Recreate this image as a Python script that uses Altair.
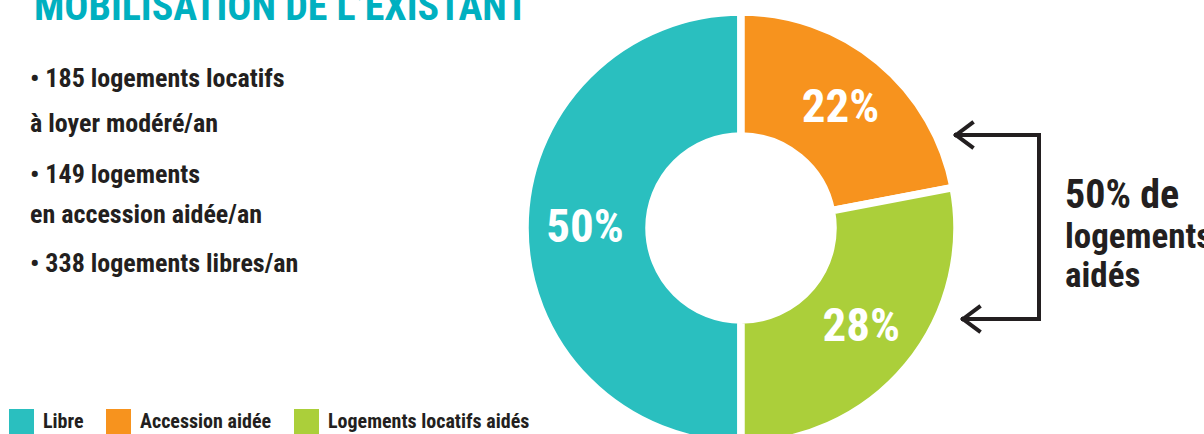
import altair as alt
import pandas as pd

# ---- data ----
categories = ["Libre", "Accession aidée", "Logements locatifs aidés"]
shares = [50, 22, 28]
slice_order = [3, 1, 2]
colors = ["#2ABFBF", "#F7931E", "#ABCF3A"]
pct_labels = [f"{v}%" for v in shares]

title_text = "MOBILISATION DE L’EXISTANT"
bullet_lines = [
    "• 185 logements locatifs",
    "à loyer modéré/an",
    "• 149 logements",
    "en accession aidée/an",
    "• 338 logements libres/an",
]
side_lines = ["50% de", "logements", "aidés"]

# ---- layout / style ----
FONT = "Roboto Condensed, DejaVu Sans Condensed, sans-serif"
DARK = "#231F20"
TITLE_COLOR = "#00B0C0"
CX, CY = 741, 228
bullet_y = [87, 132, 183, 223, 272]
side_y = [208, 248, 287]
side_size = [40, 35, 35]

df = pd.DataFrame({"categorie": categories, "part": shares,
                   "ordre": slice_order, "label": pct_labels})
dummy = pd.DataFrame({"d": [0]})

color = alt.Color(
    "categorie:N",
    scale=alt.Scale(domain=categories, range=colors),
    legend=alt.Legend(
        title=None, orient="none", legendX=9, legendY=409,
        direction="horizontal", symbolType="square", symbolSize=625,
        symbolStrokeWidth=0, symbolOpacity=1, labelFont=FONT,
        labelFontSize=20, labelFontWeight="bold", labelColor=DARK,
        labelOffset=9, columnPadding=22, padding=0, labelLimit=400,
    ),
)

base = alt.Chart(df).encode(
    theta=alt.Theta("part:Q", stack=True),
    order=alt.Order("ordre:Q"),
    x=alt.value(CX), y=alt.value(CY),
)
arcs = base.mark_arc(outerRadius=216, innerRadius=92, stroke="white",
                     strokeWidth=7.5).encode(color=color)
labels = base.mark_text(radius=156, font=FONT, fontSize=47, fontWeight="bold",
                        color="white", baseline="middle").encode(text="label:N")

layers = [arcs, labels]

# title (partly cut at top, as in the original)
layers.append(alt.Chart(dummy).mark_text(
    text=title_text, font=FONT, fontSize=40, fontWeight="bold",
    color=TITLE_COLOR, align="left", baseline="alphabetic",
).encode(x=alt.value(34), y=alt.value(20)))

for line, yy in zip(bullet_lines, bullet_y):
    layers.append(alt.Chart(dummy).mark_text(
        text=line, font=FONT, fontSize=26, fontWeight="bold", color=DARK,
        align="left", baseline="alphabetic",
    ).encode(x=alt.value(30), y=alt.value(yy)))

for line, yy, fs in zip(side_lines, side_y, side_size):
    layers.append(alt.Chart(dummy).mark_text(
        text=line, font=FONT, fontSize=fs, fontWeight="bold", color=DARK,
        align="left", baseline="alphabetic",
    ).encode(x=alt.value(1065), y=alt.value(yy)))

# bracket with arrows
segments = [
    (956, 1039, 135, 135),
    (1039, 1039, 135, 319),
    (963, 1039, 319, 319),
    (956, 972, 135, 123),
    (956, 972, 135, 147),
    (963, 979, 319, 307),
    (963, 979, 319, 331),
]
for x1, x2, y1, y2 in segments:
    layers.append(alt.Chart(dummy).mark_rule(
        color=DARK, strokeWidth=4, strokeCap="square",
    ).encode(x=alt.value(x1), x2=alt.value(x2), y=alt.value(y1), y2=alt.value(y2)))

chart = alt.layer(*layers).properties(
    width=1204, height=434,
    autosize=alt.AutoSizeParams(type="none"),
    padding=0, background="white",
).configure_view(stroke=None)

chart.save("out.html", embed_options={"renderer": "svg", "actions": False})
